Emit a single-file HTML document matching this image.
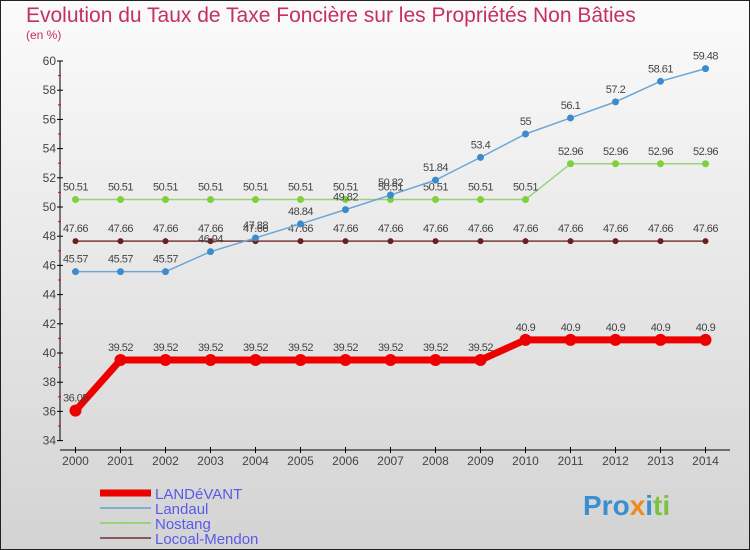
<!DOCTYPE html>
<html><head><meta charset="utf-8"><style>
body{margin:0;width:750px;height:550px;overflow:hidden;font-family:"Liberation Sans",sans-serif}
svg{display:block}
</style></head><body>
<svg width="750" height="550">
<defs><linearGradient id="bg" x1="0" y1="0" x2="0" y2="1"><stop offset="0" stop-color="#fbfbfb"/><stop offset="1" stop-color="#d3d3d3"/></linearGradient></defs>
<rect x="0.5" y="0.5" width="749" height="549" fill="url(#bg)" stroke="#222"/>
<text x="26" y="22" font-size="21" fill="#c4305f">Evolution du Taux de Taxe Foncière sur les Propriétés Non Bâties</text>
<text x="26" y="39" font-size="12" fill="#c4305f">(en %)</text>
<g id="axes"></g>
<g id="series"></g>
<g id="legend"></g>
<text x="583" y="515" font-size="28" font-weight="bold" fill="#3a8fd0">Pro<tspan fill="#f08a1c">x</tspan><tspan fill="#3a8fd0">i</tspan><tspan fill="#7cc242">ti</tspan></text>
</svg>
<script>
const years=["2000","2001","2002","2003","2004","2005","2006","2007","2008","2009","2010","2011","2012","2013","2014"];
const yTicks=[34,36,38,40,42,44,46,48,50,52,54,56,58,60];
const landevant=[36.05,39.52,39.52,39.52,39.52,39.52,39.52,39.52,39.52,39.52,40.9,40.9,40.9,40.9,40.9];
const landaul=[45.57,45.57,45.57,46.94,47.88,48.84,49.82,50.82,51.84,53.4,55,56.1,57.2,58.61,59.48];
const nostang=[50.51,50.51,50.51,50.51,50.51,50.51,50.51,50.51,50.51,50.51,50.51,52.96,52.96,52.96,52.96];
const locoal=[47.66,47.66,47.66,47.66,47.66,47.66,47.66,47.66,47.66,47.66,47.66,47.66,47.66,47.66,47.66];
const NS="http://www.w3.org/2000/svg";
const xS=i=>75.5+i*45;
const yS=v=>61+(60-v)*14.6;
function mk(t,a,p){const e=document.createElementNS(NS,t);for(const k in a)e.setAttribute(k,a[k]);p.appendChild(e);return e;}
const ax=document.getElementById('axes');
const yl=mk('line',{x1:60,y1:61,x2:60,y2:441,stroke:'#000'},ax);


yTicks.forEach(v=>{
  mk('line',{x1:57,x2:63,y1:yS(v),y2:yS(v),stroke:'#000'},ax);
  if(v<60) mk('line',{x1:58,x2:61,y1:yS(v+1),y2:yS(v+1),stroke:'#e00'},ax);
  const t=mk('text',{x:56,y:yS(v)+4,'font-size':12,'text-anchor':'end',fill:'#444'},ax);
  t.textContent=v;
  
  
});
const xl=mk('line',{x1:60,y1:450,x2:730,y2:450,stroke:'#000'},ax);


years.forEach((y,i)=>{
  mk('line',{x1:xS(i),x2:xS(i),y1:447,y2:453,stroke:'#000'},ax);
  const t=mk('text',{x:xS(i),y:465,'font-size':12,'text-anchor':'middle',fill:'#444'},ax);
  t.textContent=y;
  
  
});
const sg=document.getElementById('series');
function draw(vals,color,w,r,fill,name,dot){
  const g=mk('g',{},sg);
  
  
  const pl=mk('polyline',{points:vals.map((v,i)=>xS(i)+','+yS(v)).join(' '),fill:'none',stroke:color,'stroke-width':w,'stroke-linejoin':'round'},g);
  
  
  vals.forEach((v,i)=>{
    const c=mk('circle',{cx:xS(i),cy:yS(v),r:r,fill:fill,stroke:dot,'stroke-width':0.8},g);
    
    
    const t=mk('text',{x:xS(i),y:yS(v)-9,'font-size':11,'text-anchor':'middle',fill:'#444','letter-spacing':'-0.5'},g);
    t.textContent=v;
    
    
  });
}
draw(locoal,'#7a3a3a',1.5,3,'#6b1f1f','#400','locoal-mendon');
draw(nostang,'#99d27a',1.5,3.5,'#7fd13b','#4a8a2a','nostang');
draw(landaul,'#6aa6d6',1.5,3.5,'#3c8ccd','#235a8a','landaul');
draw(landevant,'#ee0000',7,6,'#ee0000','#cc0000','landevant');
const lg=document.getElementById('legend');
const items=[['LANDéVANT','#ee0000',7],['Landaul','#7fb0d0',2],['Nostang','#99d27a',2],['Locoal-Mendon','#8a5a5a',2]];
items.forEach((it,i)=>{
  const y=493+i*15;
  const g=mk('g',{},lg);
  
  
  mk('line',{x1:100,x2:151,y1:y,y2:y,stroke:it[1],'stroke-width':it[2]},g);
  const t=mk('text',{x:155,y:y+6,'font-size':15,fill:'#5a5ae8'},g);
  t.textContent=it[0];
});
</script>
</body></html>
